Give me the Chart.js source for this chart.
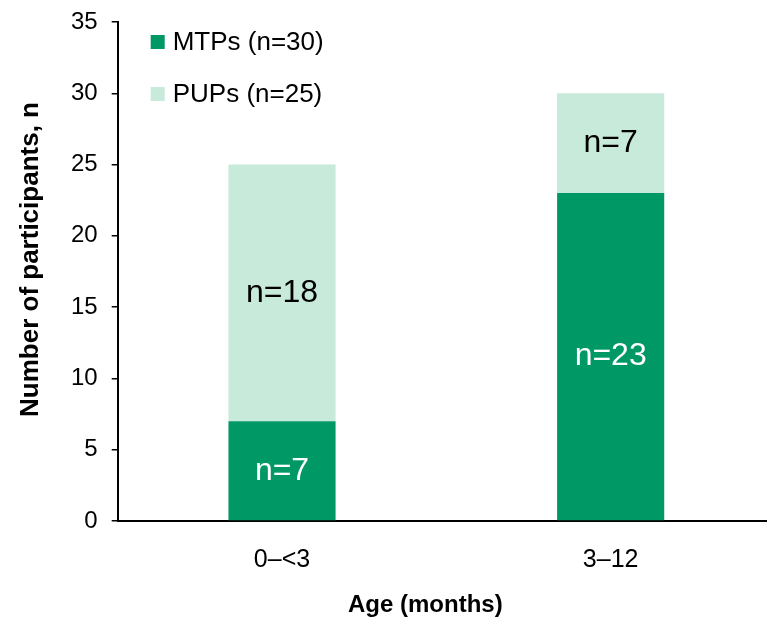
<!DOCTYPE html>
<html lang="en">
<head>
  <meta charset="UTF-8">
  <title>Participants by age</title>
  <script src="https://cdn.jsdelivr.net/npm/chart.js"></script>
  <style>
    html, body { margin: 0; padding: 0; background: #fff; overflow: hidden; }
    #wrap { width: 775px; height: 620px; }
  </style>
</head>
<body>
  <div id="wrap"><canvas id="grafico" width="775" height="620"></canvas></div>

  <script>
    // Datos
    const categorias = ['0\u2013<3', '3\u201312'];
    const mtps = [7, 23];
    const pups = [18, 7];
    const leyenda = ['MTPs (n=30)', 'PUPs (n=25)'];
    const tituloY = 'Number of participants, n';
    const tituloX = 'Age (months)';

    const VERDE = '#009966';
    const VERDE_CLARO = '#c8eadb';
    const FUENTE = 'Arial, "Liberation Sans", sans-serif';

    // Etiquetas "n=" dentro de cada segmento
    const etiquetas = {
      id: 'etiquetas',
      afterDatasetsDraw(chart) {
        const ctx = chart.ctx;
        ctx.save();
        ctx.font = '32px ' + FUENTE;
        ctx.textAlign = 'center';
        ctx.textBaseline = 'middle';
        chart.data.datasets.forEach((ds, i) => {
          chart.getDatasetMeta(i).data.forEach((bar, j) => {
            const p = bar.getProps(['x', 'y', 'base'], true);
            ctx.fillStyle = i === 0 ? '#fff' : '#000';
            ctx.fillText('n=' + ds.data[j], p.x, (p.y + p.base) / 2);
          });
        });
        ctx.restore();
      }
    };

    // Leyenda dentro del área del gráfico + títulos de los ejes
    const leyendaInterna = {
      id: 'leyendaInterna',
      afterDraw(chart) {
        const ctx = chart.ctx;
        const a = chart.chartArea;
        ctx.save();
        ctx.font = '26px ' + FUENTE;
        ctx.textBaseline = 'middle';
        chart.data.datasets.forEach((ds, i) => {
          const y = a.top + 20 + i * 52;
          const x = a.left + 33;
          ctx.fillStyle = ds.backgroundColor;
          ctx.fillRect(x, y - 7, 14, 14);
          ctx.fillStyle = '#000';
          ctx.fillText(ds.label, x + 22, y + 1);
        });

        // título X, algo a la izquierda del centro como en el original
        ctx.font = 'bold 24px ' + FUENTE;
        ctx.textAlign = 'center';
        ctx.fillText(tituloX, (a.left + a.right) / 2 - 21, chart.height - 15);

        // título Y, un poco por encima del centro
        ctx.translate(31, a.top + (a.bottom - a.top) / 2 - 12);
        ctx.rotate(-Math.PI / 2);
        ctx.font = 'bold 26px ' + FUENTE;
        ctx.fillText(tituloY, 0, 0);
        ctx.restore();
      }
    };

    const ctx = document.getElementById('grafico').getContext('2d');
    new Chart(ctx, {
      type: 'bar',
      data: {
        labels: categorias,
        datasets: [
          { label: leyenda[0], data: mtps, backgroundColor: VERDE, barPercentage: 0.326, categoryPercentage: 1 },
          { label: leyenda[1], data: pups, backgroundColor: VERDE_CLARO, barPercentage: 0.326, categoryPercentage: 1 }
        ]
      },
      options: {
        responsive: false,
        animation: false,
        layout: { padding: { top: 22, right: 0, left: 57, bottom: 29 } },
        plugins: { legend: { display: false }, tooltip: { enabled: false } },
        scales: {
          x: {
            stacked: true,
            grid: { display: false },
            border: { color: '#000', width: 2 },
            ticks: { color: '#000', font: { size: 25, family: FUENTE }, padding: 16 }
          },
          y: {
            stacked: true,
            min: 0, max: 35,
            afterFit(scale) { scale.paddingTop = 0; },
            ticks: { stepSize: 5, color: '#000', font: { size: 24, family: FUENTE }, padding: 14 },
            grid: { drawOnChartArea: false, drawTicks: true, tickLength: 6, color: '#000', lineWidth: 1.5 },
            border: { color: '#000', width: 2 }
          }
        }
      },
      plugins: [etiquetas, leyendaInterna]
    });
  </script>
</body>
</html>
